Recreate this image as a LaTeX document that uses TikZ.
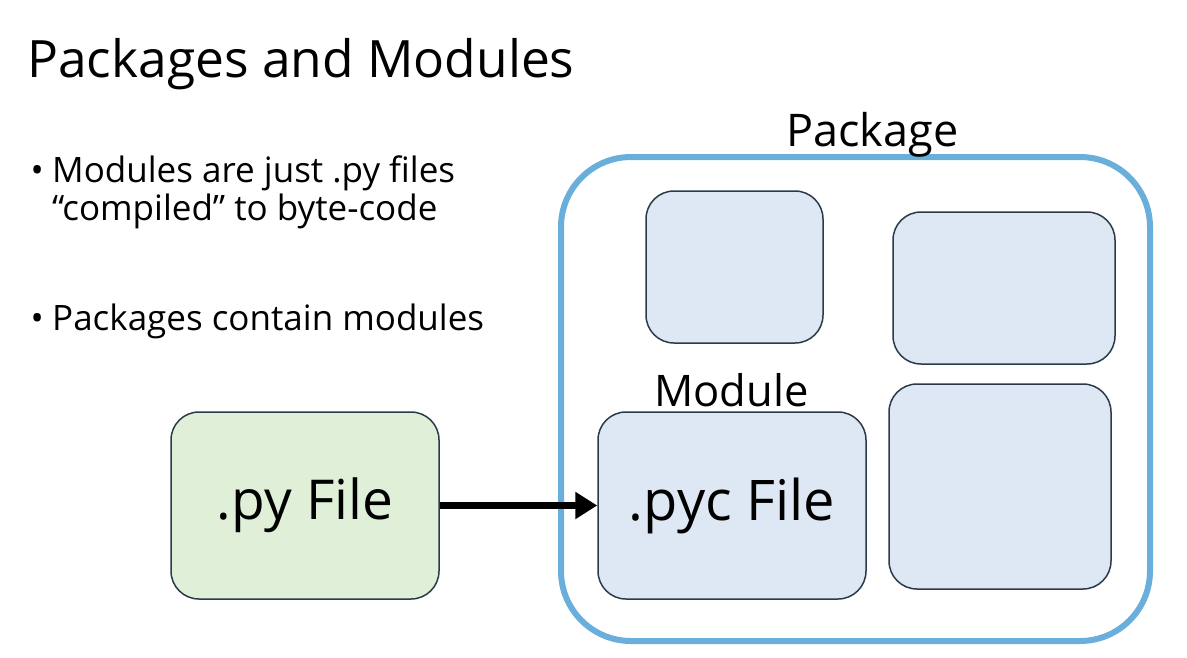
\documentclass[tikz,border=0pt]{standalone}
\usepackage{fontspec}
\setmainfont{Open Sans}
\usetikzlibrary{arrows.meta}
\definecolor{pkgblue}{HTML}{6AAEDB}
\definecolor{modfill}{HTML}{DEE8F4}
\definecolor{pyfill}{HTML}{E0F0D8}
\definecolor{edge}{HTML}{2B3A48}
\tikzset{
  modbox/.style={draw=edge, line width=1.5pt, fill=modfill, rounded corners=28pt},
  pybox/.style={draw=edge, line width=1.5pt, fill=pyfill, rounded corners=28pt},
  pkgbox/.style={draw=pkgblue, line width=6pt, rounded corners=70pt},
  lbl/.style={inner sep=0pt, anchor=base west},
  bullettext/.style={lbl, font=\fontsize{35}{42}\selectfont}
}
\begin{document}
\begin{tikzpicture}[x=1pt,y=-1pt]
\useasboundingbox (0,0) rectangle (1187,657);
\node[lbl, font=\fontsize{51.5}{60}\selectfont] (title) at (27,77) {Packages and Modules};
\node[bullettext] (b1) at (52,182) {Modules are just .py files};
\node[bullettext, anchor=base east] (d1) at (44,182) {•};
\node[bullettext] (b1b) at (52,220) {“compiled” to byte-code};
\node[bullettext] (b2) at (52,330) {Packages contain modules};
\node[bullettext, anchor=base east] (d2) at (44,330) {•};
\draw[pkgbox] (561,157) rectangle (1150,641);
\node[lbl, font=\fontsize{45}{54}\selectfont] (pkgl) at (786,146) {Package};
\draw[modbox] (646,191) rectangle (823,343);
\draw[modbox] (893,212) rectangle (1115,364);
\draw[modbox] (889,384) rectangle (1111,589);
\node[modbox, minimum width=268pt, minimum height=187pt, font=\fontsize{56}{64}\selectfont] (pyc) at (732,505.5) {.pyc File};
\node[lbl, font=\fontsize{43.5}{52}\selectfont] (modl) at (654,406) {Module};
\node[pybox, minimum width=268pt, minimum height=187pt, font=\fontsize{55}{64}\selectfont] (py) at (305,505.5) {.py File};
\draw[line width=7pt, -{Triangle[length=22pt,width=26pt]}] (py.east) -- (pyc.west);
\end{tikzpicture}
\end{document}
